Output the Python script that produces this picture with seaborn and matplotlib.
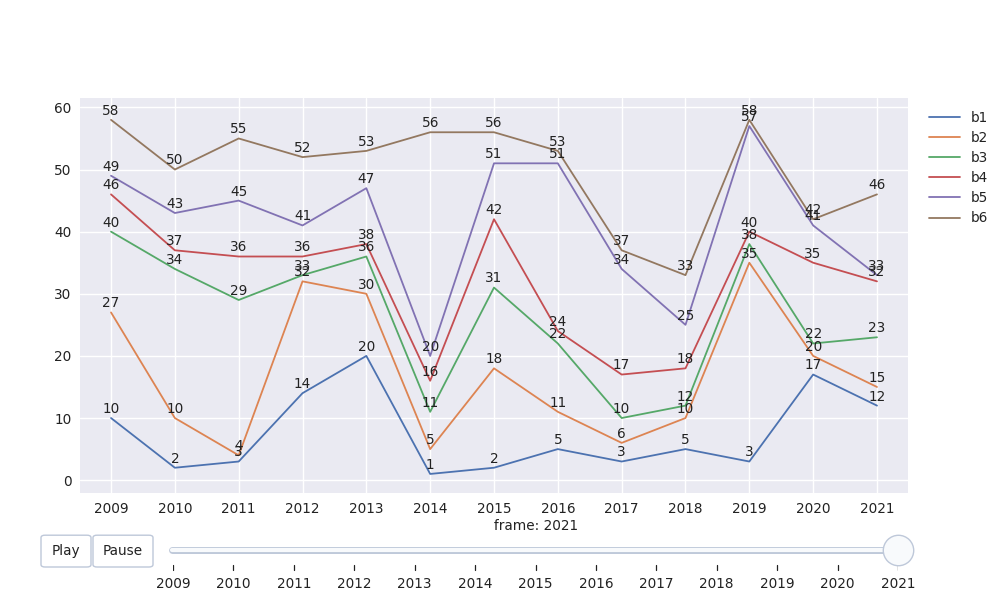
"""
Line chart of b1..b6 by year, with a (static) play/pause slider underneath
"""
import pandas as pd
import numpy as np
import matplotlib
matplotlib.use("Agg")
import matplotlib.pyplot as plt
from matplotlib.patches import FancyBboxPatch
import seaborn as sns

##################################################
#-----------------Data----------------------------
##################################################

years = [2009, 2010, 2011, 2012, 2013, 2014, 2015, 2016, 2017, 2018, 2019, 2020, 2021]
b1 = [10, 2, 3, 14, 20, 1, 2, 5, 3, 5, 3, 17, 12]
b2 = [27, 10, 4, 32, 30, 5, 18, 11, 6, 10, 35, 20, 15]
b3 = [40, 34, 29, 33, 36, 11, 31, 22, 10, 12, 38, 22, 23]
b4 = [46, 37, 36, 36, 38, 16, 42, 24, 17, 18, 40, 35, 32]
b5 = [49, 43, 45, 41, 47, 20, 51, 51, 34, 25, 57, 41, 33]
b6 = [58, 50, 55, 52, 53, 56, 56, 53, 37, 33, 58, 42, 46]
series_names = ["b1", "b2", "b3", "b4", "b5", "b6"]
current_frame = 2021

series = dict(zip(series_names, [b1, b2, b3, b4, b5, b6]))
df = pd.DataFrame([{"year": y, "value": v, "series": name}
                   for name, vals in series.items() for y, v in zip(years, vals)])

##################################################
#-----------------Plot----------------------------
##################################################

sns.set_theme(style="darkgrid", palette="deep")
plt.rcParams['font.family'] = ['DejaVu Sans']
label_col = "#222222"
fs = 9.8

fig = plt.figure(figsize=(10, 6), dpi=100)
ax = fig.add_axes([0.08, 0.178, 0.828, 0.658])
ax.set_facecolor("#EAEAF2")

sns.lineplot(data=df, x="year", y="value", hue="series", ax=ax, linewidth=1.3)

# value labels above every point
for name, vals in series.items():
    for y, v in zip(years, vals):
        ax.annotate(str(v), (y, v), xytext=(0, 1.5), textcoords="offset points",
                    ha="center", va="bottom", fontsize=fs, color=label_col)

ax.set_xlim(years[0] - 0.486, years[-1] + 0.486)
ax.set_ylim(-2.1, 61.45)
ax.set_xticks(years)
ax.set_yticks(range(0, 61, 10))
ax.tick_params(axis="both", labelsize=fs, colors=label_col, length=0, pad=6)
ax.set_xlabel("")
ax.set_ylabel("")
for s in ax.spines.values():
    s.set_visible(False)
ax.grid(color="white", linewidth=1)

leg = ax.legend(loc="upper left", bbox_to_anchor=(1.01, 1.0), frameon=False,
                fontsize=fs, handlelength=2.3, labelspacing=0.45)
for t in leg.get_texts():
    t.set_color(label_col)

# frame label
fig.text(0.536, 0.123, "frame: {}".format(current_frame), ha="center", va="center",
         fontsize=fs, color=label_col)

# slider (axes height is 72 px, so y units are pixels from the bottom)
sax = fig.add_axes([0.173, 0.0, 0.725, 0.12])
sax.set_xlim(years[0], years[-1])
sax.set_ylim(0, 72)
sax.axis("off")
sax.plot([years[0] - 0.02, years[-1]], [50, 50], color="#bec8d9", linewidth=5,
         solid_capstyle="round", zorder=1, clip_on=False)
sax.plot([years[0] - 0.02, years[-1]], [50, 50], color="#f8fafc", linewidth=3,
         solid_capstyle="round", zorder=2, clip_on=False)
sax.scatter([current_frame], [50], s=480, facecolor="#f8fafc", edgecolor="#bec8d9",
            linewidth=1, zorder=5, clip_on=False)
for y in years:
    sax.plot([y, y], [30, 35], color=label_col, linewidth=0.9)
    sax.text(y, 16, str(y), ha="center", va="center", fontsize=fs, color=label_col)

# buttons
for label, x0, w in [("Play", 0.041, 0.050), ("Pause", 0.093, 0.060)]:
    box = FancyBboxPatch((x0, 0.055), w, 0.053, transform=fig.transFigure,
                         boxstyle="round,pad=0,rounding_size=0.004",
                         facecolor="white", edgecolor="#bec8d9", linewidth=1)
    fig.patches.append(box)
    fig.text(x0 + w / 2, 0.082, label, ha="center", va="center", fontsize=fs,
             color=label_col)

plt.savefig("out.png", dpi=100, facecolor="white")
